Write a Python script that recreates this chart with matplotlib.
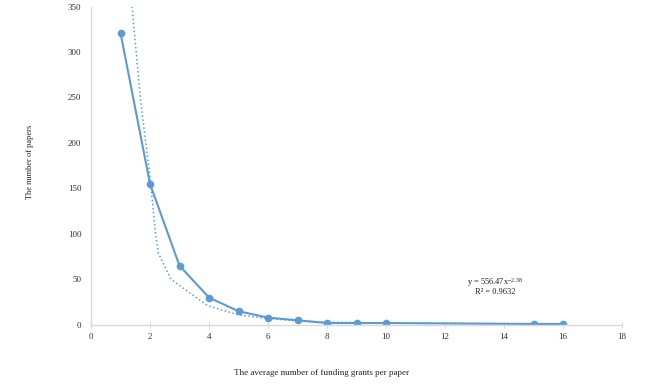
import numpy as np
import matplotlib.pyplot as plt

plt.rcParams['font.family'] = ['Liberation Serif', 'DejaVu Serif']
plt.rcParams['mathtext.fontset'] = 'custom'
plt.rcParams['mathtext.rm'] = 'Liberation Serif'
plt.rcParams['mathtext.it'] = 'Liberation Serif'

### Data
grants = [1, 2, 3, 4, 5, 6, 7, 8, 9, 10, 15, 16]
papers = [321, 155, 65, 30, 15, 8, 5, 2, 2, 2, 1, 1]

# power trendline as drawn
trend_x = [1.39, 1.68, 2.0, 2.19, 2.28, 2.71, 3.96, 5, 6, 7, 8, 10, 12, 16]
trend_y = [350, 247, 163, 100, 79, 50, 21, 11, 7, 4.5, 3, 2, 1.5, 1]

xticks = [0, 2, 4, 6, 8, 10, 12, 14, 16, 18]
yticks = [0, 50, 100, 150, 200, 250, 300, 350]

blue = '#5B9BD5'
grey = '#D9D9D9'

fig = plt.figure(figsize=(6.5, 3.84), dpi=100)
ax = fig.add_axes([0.14, 0.154, 0.817, 0.829])

ax.plot(trend_x, trend_y, linestyle=':', color=blue, linewidth=1.1)
ax.plot(grants, papers, color=blue, linewidth=1.5, marker='o', markersize=4.5)

ax.set_xlim(0, 18)
ax.set_ylim(0, 350)
ax.set_xticks(xticks)
ax.set_yticks(yticks)

for s in ['top', 'right']:
    ax.spines[s].set_visible(False)
for s in ['left', 'bottom']:
    ax.spines[s].set_color(grey)
    ax.spines[s].set_linewidth(1.0)

ax.tick_params(axis='x', direction='inout', length=4, color=grey, labelsize=6.5, labelcolor='#333333', pad=4)
ax.tick_params(axis='y', length=0, labelsize=6.5, labelcolor='#333333', pad=7)

# trendline label
ax.text(13.7, 46.5, 'y = 556.47x$^{-2.38}$', fontsize=6, ha='center', va='center', color='#222222')
ax.text(13.7, 36.3, 'R² = 0.9632', fontsize=6, ha='center', va='center', color='#222222')

fig.text(322 / 650, 1 - 373 / 384, 'The average number of funding grants per paper',
         fontsize=6.5, ha='center', va='center', color='#222222')
fig.text(30 / 650, 1 - 162 / 384, 'The number of papers', fontsize=6,
         rotation=90, ha='center', va='center', color='#222222')

fig.savefig('out.png', dpi=100)
